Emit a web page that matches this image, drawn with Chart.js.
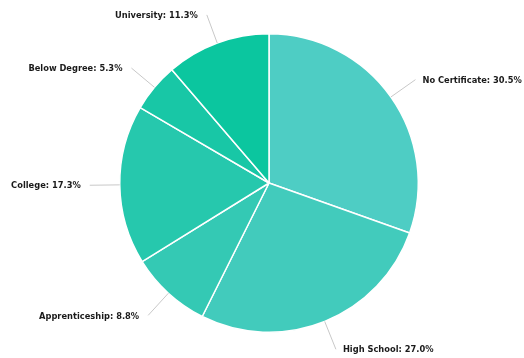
<!DOCTYPE html>
<html>
<head>
<meta charset="utf-8">
<script src="https://cdn.jsdelivr.net/npm/chart.js@4/dist/chart.umd.min.js"></script>
<style>
  body { margin: 0; background: #fff; }
</style>
</head>
<body>
<canvas id="eduChart" width="524" height="358"></canvas>
<script>
// Highest level of education, share of population (%)
const categories = ['No Certificate', 'High School', 'Apprenticeship', 'College', 'Below Degree', 'University'];
const shares = [30.5, 27.0, 8.8, 17.3, 5.3, 11.3];
const sliceColors = ['#4ecdc4', '#42cbbc', '#34c9b4', '#26c8ad', '#18c7a6', '#0bc69f'];

// Outside labels with short leader lines
const outsideLabels = {
  id: 'outsideLabels',
  afterDatasetsDraw(chart) {
    const ctx = chart.ctx;
    const meta = chart.getDatasetMeta(0);
    ctx.save();
    ctx.font = 'bold 8.3px "DejaVu Sans"';
    ctx.textBaseline = 'middle';
    meta.data.forEach((arc, i) => {
      const mid = (arc.startAngle + arc.endAngle) / 2;
      const r = arc.outerRadius;
      const x0 = arc.x + Math.cos(mid) * r;
      const y0 = arc.y + Math.sin(mid) * r;
      const x1 = arc.x + Math.cos(mid) * (r + 30);
      const y1 = arc.y + Math.sin(mid) * (r + 30);
      ctx.strokeStyle = '#c8c8c8';
      ctx.lineWidth = 1;
      ctx.beginPath();
      ctx.moveTo(x0, y0);
      ctx.lineTo(x1, y1);
      ctx.stroke();
      const right = Math.cos(mid) >= 0;
      ctx.textAlign = right ? 'left' : 'right';
      ctx.fillStyle = '#1a1a1a';
      const text = categories[i] + ': ' + shares[i].toFixed(1) + '%';
      ctx.fillText(text, x1 + (right ? 7 : -9), y1 + 1);
    });
    ctx.restore();
  }
};

const eduCtx = document.getElementById('eduChart').getContext('2d');
const eduChart = new Chart(eduCtx, {
  type: 'pie',
  data: {
    labels: categories,
    datasets: [{
      data: shares,
      backgroundColor: sliceColors,
      borderColor: '#ffffff',
      borderWidth: 1.5
    }]
  },
  options: {
    responsive: false,
    animation: false,
    layout: { padding: { left: 119, right: 105, top: 33, bottom: 25 } },
    plugins: {
      legend: { display: false },
      tooltip: { enabled: false }
    }
  },
  plugins: [outsideLabels]
});
</script>
</body>
</html>
